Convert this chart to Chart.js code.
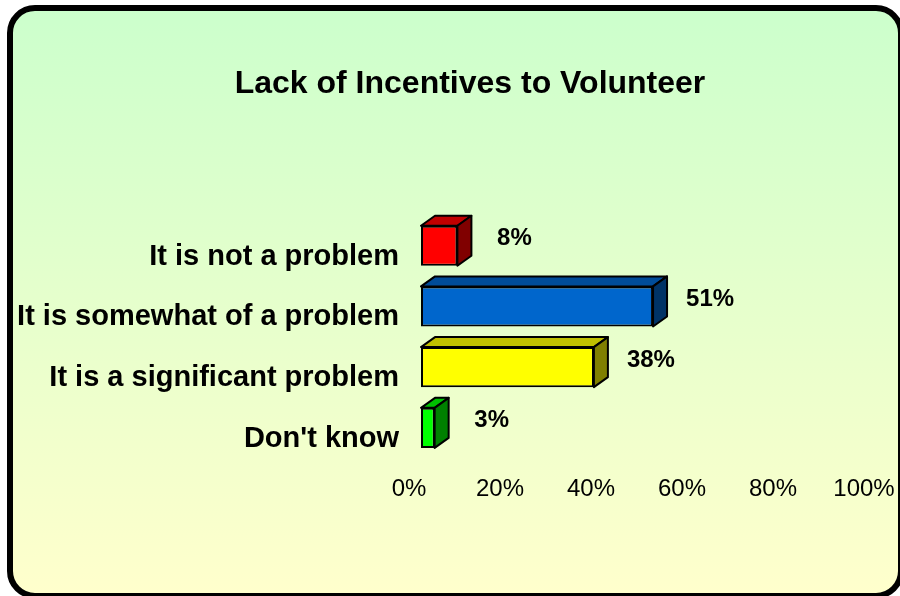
<!DOCTYPE html>
<html>
<head>
<meta charset="utf-8">
<script src="https://cdn.jsdelivr.net/npm/chart.js@4"></script>
<style>
  html, body { margin: 0; padding: 0; width: 900px; height: 596px; overflow: hidden; background: #fff; }
  #frame {
    position: absolute; left: 7px; top: 5px; width: 897px; height: 594px;
    box-sizing: border-box; border: 6px solid #000; border-radius: 28px;
    background: linear-gradient(#ccffcc, #ffffcc);
  }
  #chart { position: absolute; left: 0; top: 0; }
</style>
</head>
<body>
<div id="frame"></div>
<canvas id="chart" width="900" height="596"></canvas>
<script>
const chartTitle = "Lack of Incentives to Volunteer";
const categories = ["It is not a problem", "It is somewhat of a problem", "It is a significant problem", "Don't know"];
const percentages = [8, 51, 38, 3];
const xTicks = [0, 20, 40, 60, 80, 100];

// front / top / side shades of each bar
const frontColors = ["#ff0000", "#0066cc", "#ffff00", "#00ff00"];
const topColors = ["#c00000", "#004c99", "#c0c000", "#00c000"];
const sideColors = ["#800000", "#003366", "#808000", "#008000"];

const family = "'Liberation Sans', Arial, sans-serif";
const depthX = 14, depthY = -10;

// fake 3D: top and right faces plus the value labels
const bars3d = {
  id: "bars3d",
  afterLayout(chart) {
    // the left padding only serves to centre the title; let the long labels use it
    chart.scales.y.left = 0;
  },
  afterDatasetsDraw(chart) {
    const ctx = chart.ctx;
    const meta = chart.getDatasetMeta(0);
    ctx.save();
    ctx.lineWidth = 2;
    ctx.strokeStyle = "#000";
    ctx.lineJoin = "round";
    const face = (pts, fill) => {
      ctx.beginPath();
      pts.forEach(([px, py], k) => (k ? ctx.lineTo(px, py) : ctx.moveTo(px, py)));
      ctx.closePath();
      ctx.fillStyle = fill;
      ctx.fill();
      ctx.stroke();
    };
    meta.data.forEach((bar, i) => {
      const { x, y, base, height } = bar.getProps(["x", "y", "base", "height"], true);
      const top = y - height / 2, bot = y + height / 2;
      face([[base, top], [base + depthX, top + depthY], [x + depthX, top + depthY], [x, top]], topColors[i]);
      face([[x, top], [x + depthX, top + depthY], [x + depthX, bot + depthY], [x, bot]], sideColors[i]);
      ctx.fillStyle = "#000";
      ctx.font = "bold 24px " + family;
      ctx.textAlign = "center";
      ctx.textBaseline = "middle";
      ctx.fillText(percentages[i] + "%", x + 57, y - 7);
    });
    ctx.restore();
  }
};

new Chart(document.getElementById("chart"), {
  type: "bar",
  data: {
    labels: categories,
    datasets: [{
      data: percentages,
      backgroundColor: frontColors,
      borderColor: "#000",
      borderWidth: 2,
      borderSkipped: false,
      barPercentage: 0.66,
      categoryPercentage: 1
    }]
  },
  options: {
    responsive: false,
    animation: false,
    indexAxis: "y",
    layout: { padding: { top: 0, left: 64, right: 24, bottom: 75 } },
    plugins: {
      legend: { display: false },
      tooltip: { enabled: false },
      title: {
        display: true,
        text: chartTitle,
        color: "#000",
        font: { size: 32, weight: "bold", family },
        padding: { top: 65, bottom: 112 }
      }
    },
    scales: {
      x: {
        min: 0,
        max: 100,
        afterBuildTicks: s => { s.ticks = xTicks.map(v => ({ value: v })); },
        afterFit: s => { s.paddingLeft = 0; s.paddingRight = 0; },
        grid: { display: false, drawTicks: false },
        border: { display: false },
        ticks: {
          callback: v => v + "%",
          color: "#000",
          font: { size: 24, family },
          padding: 17,
          labelOffset: -12,
          maxRotation: 0
        }
      },
      y: {
        afterFit: s => { s.width = 357; },
        grid: { display: false, drawTicks: false },
        border: { display: false },
        ticks: {
          color: "#000",
          font: { size: 29, weight: "bold", family },
          padding: 22,
          labelOffset: 11
        }
      }
    }
  },
  plugins: [bars3d]
});
</script>
</body>
</html>
